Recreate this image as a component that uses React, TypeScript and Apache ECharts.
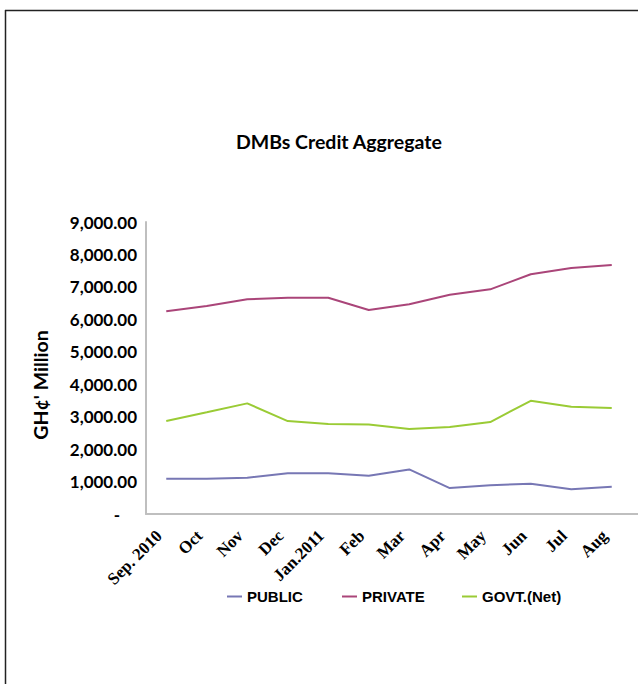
import React, { useEffect, useRef } from "react";
import * as echarts from "echarts";

const categories = ["Sep. 2010", "Oct", "Nov", "Dec", "Jan.2011", "Feb", "Mar", "Apr", "May", "Jun", "Jul", "Aug"];
const publicCredit = [1090, 1090, 1120, 1255, 1255, 1180, 1375, 800, 885, 935, 760, 840];
const privateCredit = [6250, 6410, 6620, 6665, 6665, 6290, 6465, 6760, 6925, 7390, 7585, 7675];
const govtCredit = [2865, 3135, 3410, 2865, 2775, 2755, 2620, 2680, 2835, 3490, 3305, 3265];
const yTicks = { min: 0, max: 9000, interval: 1000 };

const COLORS = { pub: "#7777B4", priv: "#AA4579", govt: "#9ACB35" };

export default function App() {
  const ref = useRef<HTMLDivElement>(null);
  useEffect(() => {
    if (!ref.current) return;
    const chart = echarts.init(ref.current, null, { renderer: "svg" });
    const legendText = { fontFamily: "Liberation Sans", fontWeight: "bold", fontSize: 15, color: "#000" };
    const mkLegend = (name: string, left: number) => ({
      data: [name],
      left,
      top: 589,
      padding: 0,
      icon: "rect",
      itemWidth: 15,
      itemHeight: 2,
      itemGap: 5,
      textStyle: legendText,
    });
    chart.setOption({
      animation: false,
      backgroundColor: "#fff",
      title: {
        text: "DMBs Credit Aggregate",
        left: 231,
        top: 126,
        textStyle: { fontFamily: "Lato", fontWeight: "bold", fontSize: 19.5, color: "#000" },
      },
      legend: [mkLegend("PUBLIC", 227), mkLegend("PRIVATE", 342), mkLegend("GOVT.(Net)", 462)],
      grid: { left: 146, right: 6, top: 222, bottom: 170, containLabel: false },
      xAxis: {
        type: "category",
        data: categories,
        boundaryGap: true,
        axisLine: { lineStyle: { color: "#BFBFBF", width: 2 } },
        axisTick: { show: false },
        axisLabel: {
          interval: 0,
          rotate: 45,
          margin: 12,
          padding: [0, 10, 0, 0],
          fontFamily: "Liberation Serif",
          fontWeight: "bold",
          fontSize: 17,
          color: "#000",
        },
      },
      yAxis: {
        type: "value",
        min: yTicks.min,
        max: yTicks.max,
        interval: yTicks.interval,
        splitLine: { show: false },
        axisLine: { show: true, lineStyle: { color: "#BFBFBF", width: 2 } },
        axisTick: { show: false },
        axisLabel: {
          margin: 9,
          fontFamily: "Lato",
          fontWeight: "bold",
          fontSize: 17,
          color: "#000",
          formatter: (v: number) =>
            v === 0 ? "{d|-}" : v.toLocaleString("en-US", { minimumFractionDigits: 2, maximumFractionDigits: 2 }),
          rich: { d: { fontFamily: "Lato", fontWeight: "bold", fontSize: 17, color: "#000", padding: [0, 17, 0, 0] } },
        },
      },
      graphic: [
        { type: "line", shape: { x1: 5.5, y1: 10, x2: 5.5, y2: 684 }, style: { stroke: "#222", lineWidth: 1.5 } },
        { type: "line", shape: { x1: 5, y1: 10.5, x2: 638, y2: 10.5 }, style: { stroke: "#222", lineWidth: 1.5 } },
        { type: "line", shape: { x1: 630, y1: 514, x2: 638, y2: 514 }, style: { stroke: "#BFBFBF", lineWidth: 2 } },
        {
          type: "text",
          x: 40,
          y: 385,
          rotation: Math.PI / 2,
          style: {
            text: "GH\u00A2' Million",
            fontFamily: "Lato",
            fontWeight: "bold",
            fontSize: 19.5,
            fill: "#000",
            align: "center",
            verticalAlign: "middle",
          },
        },
      ],
      series: [
        { name: "PUBLIC", type: "line", data: publicCredit, symbol: "none", lineStyle: { width: 2, color: COLORS.pub }, itemStyle: { color: COLORS.pub } },
        { name: "PRIVATE", type: "line", data: privateCredit, symbol: "none", lineStyle: { width: 2, color: COLORS.priv }, itemStyle: { color: COLORS.priv } },
        { name: "GOVT.(Net)", type: "line", data: govtCredit, symbol: "none", lineStyle: { width: 2, color: COLORS.govt }, itemStyle: { color: COLORS.govt } },
      ],
    });
    return () => chart.dispose();
  }, []);
  return <div ref={ref} style={{ position: "absolute", left: 0, top: 0, width: 638, height: 684 }} />;
}
